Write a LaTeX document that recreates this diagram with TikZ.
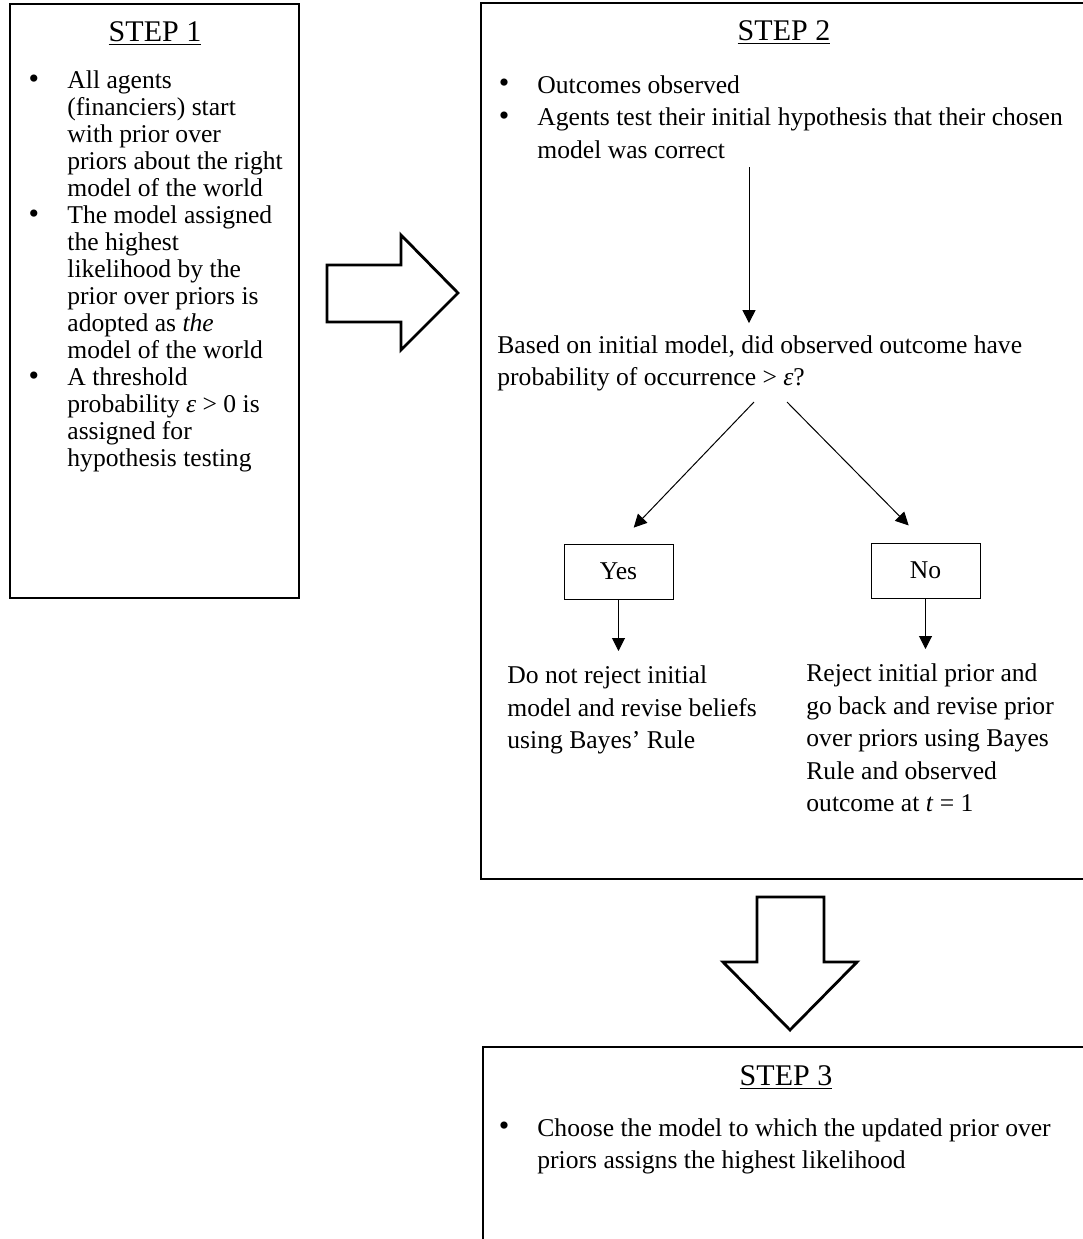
\documentclass[tikz,border=0pt]{standalone}
\usepackage{fontspec}
\setmainfont{Liberation Serif}
\usetikzlibrary{arrows.meta,positioning}
\newcommand{\tsone}{\rule{0pt}{9pt}}
\newcommand{\tstwo}{\rule{0pt}{10pt}}
\begin{document}
\begin{tikzpicture}[x=0.5pt,y=-0.5pt,
    % Step 1 is set tighter than steps 2 and 3
    txtone/.style={inner sep=0pt,anchor=north west,align=left,
      font=\fontsize{12.8}{13.5}\selectfont},
    txttwo/.style={inner sep=0pt,anchor=north west,align=left,
      font=\fontsize{12.8}{16.3}\selectfont},
    steptitle/.style={inner sep=0pt,anchor=base,
      font=\fontsize{15}{18}\selectfont},
    dot/.style={inner sep=0pt,font=\fontsize{15}{18}\selectfont},
    frame/.style={draw,line width=1.4pt},
    answer/.style={rectangle,draw,line width=0.5pt,
      minimum width=54.5pt,minimum height=27.5pt,
      font=\fontsize{12.8}{16.3}\selectfont},
    arr/.style={line width=0.5pt,-{Triangle[length=6.5pt,width=6.5pt]}},
    bigarrow/.style={draw,line width=1.4pt,fill=white,line join=miter}]
  \useasboundingbox (0,0) rectangle (1083,1239);
  \clip (0,0) rectangle (1083,1239);

  % Step 1
  \draw[frame] (10,4) rectangle (299,598);
  \node(title1)[steptitle] at (155,41) {\underline{STEP 1}};
  \node(b1a)[dot] at (34,82) {•};
  \node(t1a)[txtone] at (67,70.5) {\tsone All agents\\(financiers) start\\with prior over\\priors about the right\\model of the world};
  \node(b1b)[dot] at (34,217) {•};
  \node(t1b)[txtone] at (67,205.5) {\tsone The model assigned\\the highest\\likelihood by the\\prior over priors is\\adopted as \textit{the}\\model of the world};
  \node(b1c)[dot] at (34,379) {•};
  \node(t1c)[txtone] at (67,367.5) {\tsone A threshold\\probability \textit{ε} > 0 is\\assigned for\\hypothesis testing};

  \draw[bigarrow] (327,265) -- (401,265) -- (401,235) -- (458,293)
    -- (401,350) -- (401,322) -- (327,322) -- cycle;

  % Step 2
  \draw[frame] (481,3) rectangle (1100,879);
  \node(title2)[steptitle] at (784,40) {\underline{STEP 2}};
  \node(b2a)[dot] at (504,86.2) {•};
  \node(t2a)[txttwo] at (537,72.7) {\tstwo Outcomes observed};
  \node(b2b)[dot] at (504,118.8) {•};
  \node(t2b)[txttwo] at (537,105.3) {\tstwo Agents test their initial hypothesis that their chosen\\model was correct};
  \coordinate(a0) at (749,167);
  \node(q)[txttwo] at (497,332.7) {\tstwo Based on initial model, did observed outcome have\\probability of occurrence > \textit{ε}?};
  \coordinate(q1) at (754,402);
  \coordinate(q2) at (787,402);
  \node(yes)[answer] at (618.5,571.5) {Yes};
  \node(no)[answer] at (925.5,570.5) {No};
  \node(ly)[txttwo] at (507,663) {\tstwo Do not reject initial\\model and revise beliefs\\using Bayes’ Rule};
  \node(ry)[txttwo] at (806,661) {\tstwo Reject initial prior and\\go back and revise prior\\over priors using Bayes\\Rule and observed\\outcome at \textit{t} = 1};
  \path (a0) edge[arr, shorten >=4.8pt] (a0 |- q.north);
  \path (q1) edge[arr, shorten >=11pt] (yes.north);
  \path (q2) edge[arr, shorten >=12pt] (no.north);
  \path (yes.south) edge[arr, shorten >=6pt] (yes.south |- ly.north);
  \path (no.south) edge[arr, shorten >=6pt] (no.south |- ry.north);

  \draw[bigarrow] (757,897) -- (824,897) -- (824,962) -- (857,962)
    -- (790,1030) -- (723,962) -- (757,962) -- cycle;

  % Step 3
  \draw[frame] (483,1047) rectangle (1100,1260);
  \node(title3)[steptitle] at (786,1085) {\underline{STEP 3}};
  \node(b3)[dot] at (504,1129.2) {•};
  \node(t3)[txttwo] at (537,1115.7) {\tstwo Choose the model to which the updated prior over\\priors assigns the highest likelihood};
\end{tikzpicture}
\end{document}
